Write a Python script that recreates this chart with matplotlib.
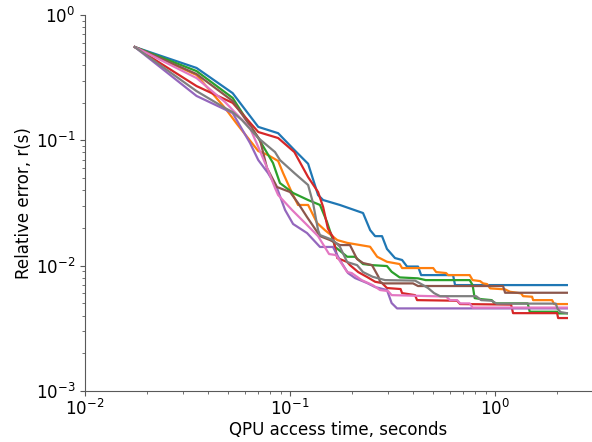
import matplotlib
matplotlib.use("Agg")
import matplotlib.pyplot as plt

blue_x = [0.0175,0.035,0.0525,0.07,0.0875,0.105,0.1225,0.137,0.145,0.175,0.227,0.246,0.26,0.281,0.297,0.325,0.352,0.372,0.421,0.436,0.624,0.638,2.24]
blue_y = [0.555,0.378,0.238,0.128,0.114,0.0837,0.065,0.0366,0.0334,0.0305,0.0263,0.0192,0.0172,0.0172,0.0136,0.0115,0.0111,0.00984,0.00984,0.00841,0.00841,0.0070,0.0070]

orange_x = [0.0175,0.035,0.0482,0.0551,0.07,0.0781,0.0875,0.0925,0.1023,0.1094,0.1225,0.1355,0.148,0.170,0.190,0.2457,0.266,0.297,0.3425,0.352,0.499,0.516,0.577,0.590,0.752,0.777,0.845,0.874,0.914,0.946,1.119,1.183,1.34,1.370,1.516,1.533,1.897,1.941,2.24]
orange_y = [0.555,0.332,0.181,0.135,0.0821,0.0763,0.0684,0.0548,0.038,0.0305,0.0305,0.0219,0.0192,0.016,0.0152,0.01416,0.01178,0.01074,0.0103,0.00957,0.00957,0.00889,0.00873,0.00841,0.00841,0.00767,0.00753,0.00722,0.00713,0.00659,0.00647,0.00619,0.00601,0.00571,0.00565,0.00531,0.00531,0.00494,0.00494]

green_x = [0.0175,0.035,0.0525,0.07,0.0826,0.0893,0.1035,0.1225,0.14,0.1515,0.166,0.190,0.2076,0.227,0.251,0.297,0.313,0.3425,0.421,0.4587,0.752,0.777,0.7955,0.861,0.963,0.996,1.443,1.476,2.007,2.037,2.24]
green_y = [0.555,0.357,0.218,0.1043,0.0659,0.0456,0.038,0.0334,0.0305,0.0223,0.0141,0.01178,0.01178,0.0103,0.0101,0.00993,0.00894,0.00806,0.00792,0.00767,0.00767,0.0070,0.00551,0.0054,0.00531,0.0050,0.0050,0.00429,0.00429,0.00416,0.00416]

red_x = [0.0175,0.035,0.0525,0.07,0.0875,0.105,0.1225,0.137,0.145,0.153,0.162,0.170,0.190,0.196,0.215,0.238,0.26,0.281,0.297,0.346,0.352,0.407,0.4165,0.653,0.675,1.197,1.224,2.007,2.03,2.24]
red_y = [0.555,0.271,0.199,0.1165,0.1043,0.0806,0.0509,0.0387,0.0294,0.0198,0.0169,0.0115,0.0107,0.0101,0.00889,0.00811,0.00744,0.00726,0.00663,0.00651,0.00604,0.00582,0.00531,0.00525,0.00494,0.00489,0.00418,0.00418,0.00382,0.00382]

purple_x = [0.0175,0.035,0.0525,0.0638,0.07,0.0781,0.0864,0.0946,0.1035,0.1211,0.14,0.162,0.175,0.1918,0.2076,0.238,0.26,0.297,0.313,0.3326,2.24]
purple_y = [0.555,0.226,0.165,0.0952,0.0696,0.0548,0.0416,0.0278,0.0215,0.0182,0.0141,0.0141,0.01108,0.00873,0.00796,0.00726,0.00675,0.00639,0.00503,0.00456,0.00456]

brown_x = [0.0175,0.035,0.0525,0.0714,0.0772,0.0864,0.100,0.1094,0.1211,0.140,0.1567,0.175,0.196,0.2123,0.227,0.251,0.270,0.2748,0.284,0.398,0.421,1.094,1.119,2.24]
brown_y = [0.555,0.338,0.206,0.1005,0.0601,0.0424,0.0387,0.0316,0.0244,0.0172,0.016,0.0146,0.0146,0.01129,0.0105,0.0101,0.00815,0.00744,0.00722,0.00722,0.00688,0.00688,0.00608,0.00608]

pink_x = [0.0175,0.035,0.0482,0.0638,0.07,0.0781,0.0845,0.0875,0.1023,0.1197,0.137,0.155,0.1676,0.190,0.1999,0.2235,0.253,0.2748,0.3007,0.313,0.577,0.603,0.653,0.675,0.752,0.777,2.24]
pink_y = [0.555,0.314,0.202,0.1254,0.0884,0.0579,0.0416,0.0366,0.0278,0.0215,0.0172,0.01238,0.01215,0.00889,0.00873,0.00767,0.0070,0.00639,0.00627,0.00582,0.00567,0.00531,0.00531,0.0050,0.0050,0.00463,0.00463]

gray_x = [0.0175,0.035,0.0482,0.0525,0.0583,0.07,0.0845,0.0893,0.105,0.1225,0.1295,0.137,0.14,0.162,0.175,0.19,0.2123,0.227,0.253,0.2907,0.407,0.4455,0.471,0.504,0.539,0.808,0.855,0.963,1.018,1.976,2.021,2.090,2.24]
gray_y = [0.555,0.247,0.181,0.168,0.145,0.1043,0.0806,0.0696,0.0548,0.044,0.0316,0.0192,0.01755,0.016,0.01416,0.01068,0.0101,0.00889,0.00815,0.00767,0.0076,0.0070,0.00663,0.00604,0.00571,0.00571,0.00531,0.00525,0.00498,0.00498,0.0045,0.00426,0.00418]

series = [
    (blue_x, blue_y, "tab:blue"),
    (orange_x, orange_y, "tab:orange"),
    (green_x, green_y, "tab:green"),
    (red_x, red_y, "tab:red"),
    (purple_x, purple_y, "tab:purple"),
    (brown_x, brown_y, "tab:brown"),
    (pink_x, pink_y, "tab:pink"),
    (gray_x, gray_y, "tab:gray"),
]

fig = plt.figure(figsize=(5.92, 4.42), dpi=100)
ax = fig.add_axes([85/592, 1 - 391/442, 1 - 85/592, (391 - 15)/442])
for x, y, c in series:
    ax.plot(x, y, color=c, lw=1.6)

ax.set_xscale("log")
ax.set_yscale("log")
ax.set_xlim(1e-2, 2.97)
ax.set_ylim(1e-3, 1e0)

for s in ["top", "right"]:
    ax.spines[s].set_visible(False)
for s in ["left", "bottom"]:
    ax.spines[s].set_color("0.35")
ax.tick_params(which="both", colors="0.35", labelcolor="black", labelsize=12)
ax.tick_params(axis="x", which="major", pad=2.5)

ax.set_xlabel("QPU access time, seconds", fontsize=12, labelpad=1)
ax.set_ylabel("Relative error, r(s)", fontsize=12, labelpad=2)

fig.savefig("out.png", dpi=100)
